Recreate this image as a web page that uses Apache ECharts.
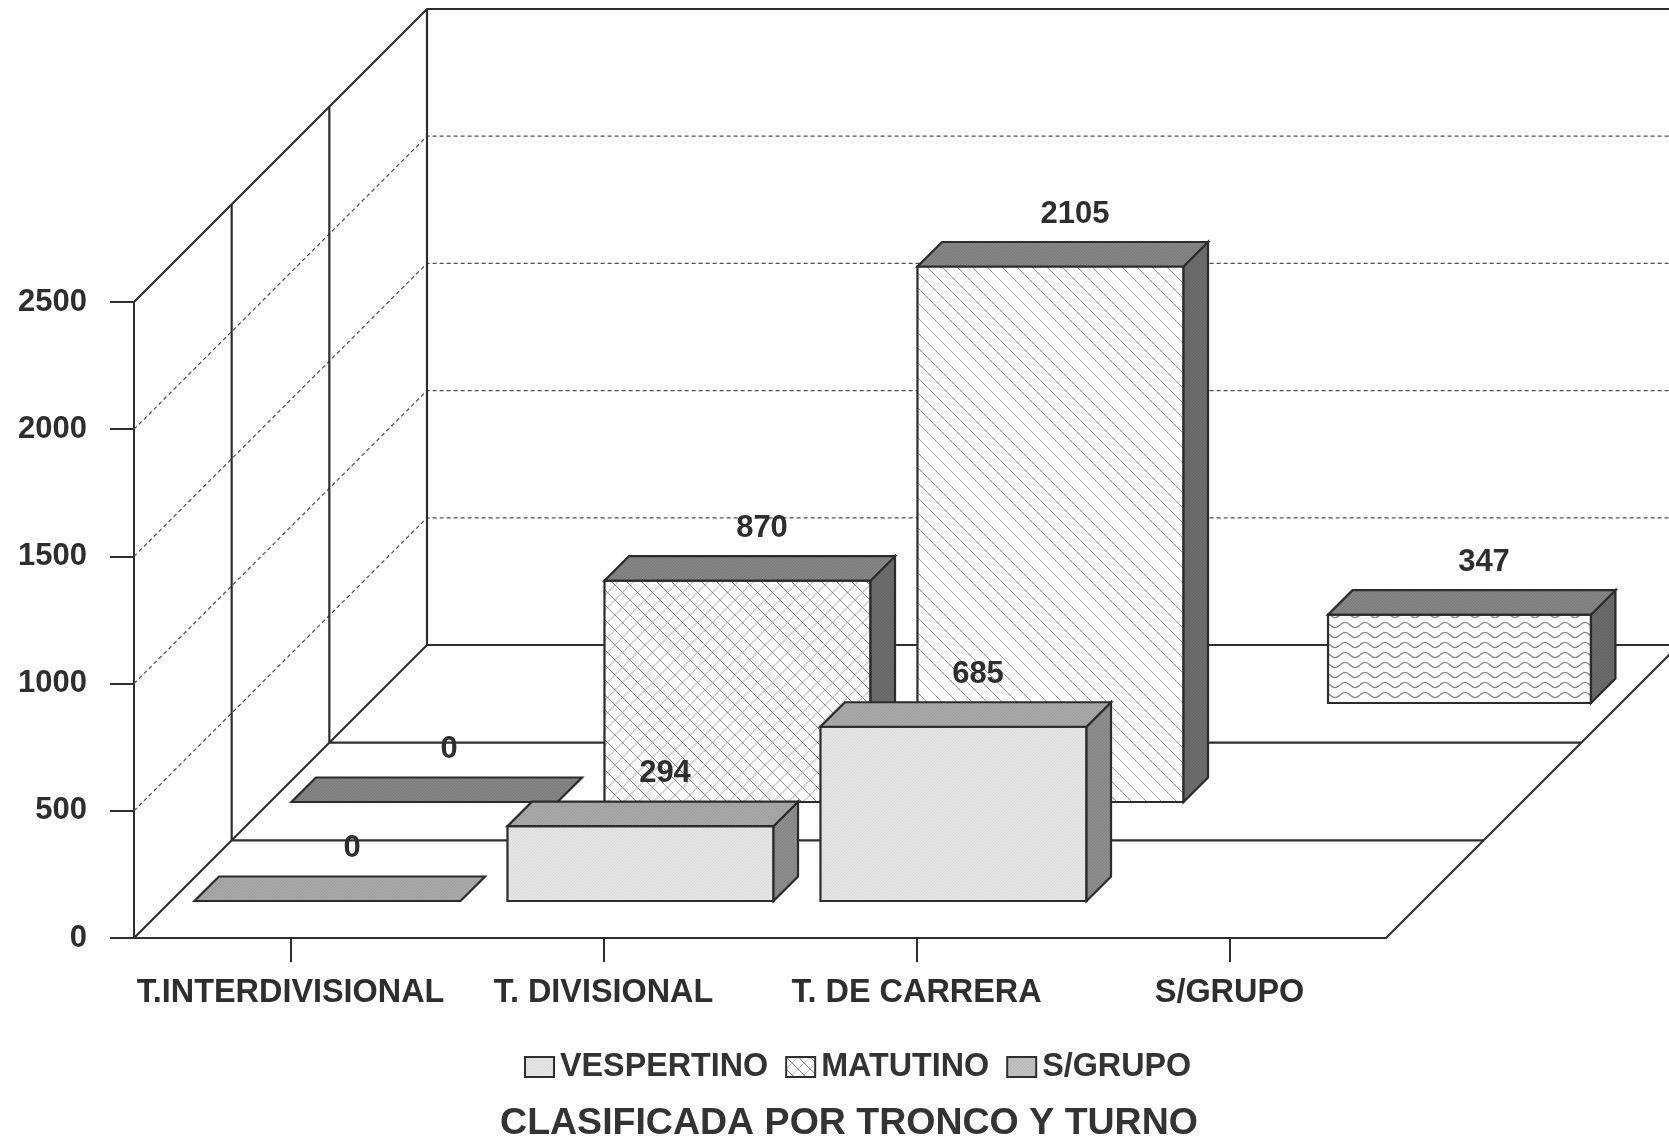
<!DOCTYPE html>
<html><head><meta charset="utf-8">
<style>html,body{margin:0;padding:0;background:#fff}#c{width:1669px;height:1139px}</style>
<script src="https://cdn.jsdelivr.net/npm/echarts@6/dist/echarts.min.js"></script>
</head><body><div id="c"></div>
<script>
// ---- data ----
const categories = ['T.INTERDIVISIONAL', 'T. DIVISIONAL', 'T. DE CARRERA', 'S/GRUPO'];
const vespertino = [0, 294, 685, null];
const matutino   = [0, 870, 2105, null];
const sinGrupo   = [null, null, null, 347];
const gridValues = [500, 1000, 1500, 2000];
const legendNames = ['VESPERTINO', 'MATUTINO', 'S/GRUPO'];
const titleText = 'CLASIFICADA POR TRONCO Y TURNO';

// ---- geometry of the fake 3-D box (screen pixels of offset) ----
const DEPTH = 293, ROWS = 3, FONT = 'Liberation Sans, Arial, sans-serif';
const INK = '#2e2e2e';
const BAR_DEPTH = 24.5;
const rowRatio = [0.85, 0.85, 0.84];
const rowOffsetX = [37, 134, 230];
const rowOffsetY = [37, 136, 235];

function tile(w, h, draw) {
  const c = document.createElement('canvas'); c.width = w; c.height = h;
  draw(c.getContext('2d'), w, h);
  return { image: c, repeat: 'repeat' };
}
function diagLines(ctx, w, h, dir, color, lw) {
  ctx.strokeStyle = color; ctx.lineWidth = lw;
  for (let k = -1; k <= 1; k++) {
    ctx.beginPath();
    if (dir > 0) { ctx.moveTo(k * w, 0); ctx.lineTo(k * w + w, h); }
    else { ctx.moveTo(k * w + w, 0); ctx.lineTo(k * w, h); }
    ctx.stroke();
  }
}
function dither(base, dot) {
  return tile(3, 3, (g, w, h) => {
    g.fillStyle = base; g.fillRect(0, 0, w, h);
    g.fillStyle = dot; g.fillRect(0, 0, 1, 1); g.fillRect(2, 1, 1, 1); g.fillRect(1, 2, 1, 1);
  });
}
const hatch = tile(15, 15, (g, w, h) => {
  g.fillStyle = '#fff'; g.fillRect(0, 0, w, h);
  diagLines(g, w, h, 1, '#9a9a9a', 1);
});
const cross = tile(15, 15, (g, w, h) => {
  g.fillStyle = '#fff'; g.fillRect(0, 0, w, h);
  diagLines(g, w, h, -1, '#cdcdcd', 1.4);
  diagLines(g, w, h, 1, '#858585', 1);
});
const wave = tile(20, 10, (g, w, h) => {
  g.fillStyle = '#fff'; g.fillRect(0, 0, w, h);
  g.strokeStyle = '#868686'; g.lineWidth = 1.4;
  g.beginPath(); g.moveTo(0, 5);
  g.bezierCurveTo(4, 1.5, 6, 1.5, 10, 5); g.bezierCurveTo(14, 8.5, 16, 8.5, 20, 5);
  g.stroke();
});
const legendHatch = tile(12, 12, (g, w, h) => {
  g.fillStyle = '#fff'; g.fillRect(0, 0, w, h);
  diagLines(g, w, h, 1, '#777', 1); diagLines(g, w, h, -1, '#bbb', 1);
});
const vespFace = dither('#e6e6e6', '#d9d9d9');
const speckle = dither('#c4c4c4', '#b0b0b0');

const looks = {
  vespertino: { face: () => vespFace, top: dither('#a9a9a9', '#9b9b9b'), side: dither('#8e8e8e', '#808080') },
  matutino:   { face: i => (i === 1 ? cross : hatch), top: dither('#868686', '#787878'), side: dither('#6e6e6e', '#626262') },
  sinGrupo:   { face: () => wave, top: dither('#868686', '#787878'), side: dither('#6c6c6c', '#5f5f5f') }
};

function barSeries(name, values, row, look) {
  return {
    name, type: 'custom', coordinateSystem: 'cartesian2d', encode: { x: 0, y: 1 },
    data: values.map((v, i) => [i, v]).filter(d => d[1] !== null),
    renderItem(params, api) {
      const i = api.value(0), v = api.value(1);
      const base = api.coord([i, 0]), head = api.coord([i, v]);
      const w = api.size([1, 0])[0] * rowRatio[row];
      const l = base[0] - w / 2 + rowOffsetX[row], r = l + w;
      const b = base[1] - rowOffsetY[row], t = head[1] - rowOffsetY[row], d = BAR_DEPTH;
      const edge = { stroke: '#2b2b2b', lineWidth: 2.2, lineJoin: 'miter' };
      const poly = (points, fill) => ({ type: 'polygon', shape: { points }, style: Object.assign({ fill }, edge) });
      const children = [];
      if (v > 0) {
        children.push(poly([[l, b], [r, b], [r, t], [l, t]], look.face(i)));
        children.push(poly([[r, b], [r + d, b - d], [r + d, t - d], [r, t]], look.side));
      }
      children.push(poly([[l, t], [r, t], [r + d, t - d], [l + d, t - d]], look.top));
      children.push({
        type: 'text', z2: 100,
        style: {
          x: (l + r) / 2 + d, y: t - d - 28, text: String(v), fill: INK,
          font: 'bold 31px ' + FONT, textAlign: 'center', textVerticalAlign: 'middle', textBaseline: 'middle'
        }
      });
      return { type: 'group', children };
    }
  };
}

const frameSeries = {
  type: 'custom', coordinateSystem: 'cartesian2d', encode: { x: 0, y: 1 }, silent: true,
  data: [[0, 0]],
  renderItem(params, api) {
    const bw = api.size([1, 0])[0];
    const o = api.coord([0, 0]); const x0 = o[0] - bw / 2, y0 = o[1];
    const top = api.coord([0, 2500])[1];
    const x1 = x0 + bw * categories.length;
    const st = { stroke: '#2e2e2e', lineWidth: 2.2, fill: null };
    const line = pts => ({ type: 'polyline', shape: { points: pts }, style: st });
    const kids = [];
    kids.push(line([[x0, top], [x0 + DEPTH, top - DEPTH], [x1 + DEPTH, top - DEPTH]]));
    kids.push(line([[x0, y0], [x0 + DEPTH, y0 - DEPTH], [x1 + DEPTH, y0 - DEPTH]]));
    kids.push(line([[x1, y0], [x1 + DEPTH, y0 - DEPTH]]));
    for (let k = 1; k <= ROWS; k++) {
      const dz = DEPTH * k / ROWS;
      kids.push(line([[x0 + dz, top - dz], [x0 + dz, y0 - dz]]));
      if (k < ROWS) kids.push(line([[x0 + dz, y0 - dz], [x1 + dz, y0 - dz]]));
    }
    return { type: 'group', children: kids };
  }
};

const gridSeries = {
  type: 'custom', coordinateSystem: 'cartesian2d', encode: { x: 0, y: 1 }, silent: true,
  data: gridValues.map(v => [0, v]),
  renderItem(params, api) {
    const bw = api.size([1, 0])[0];
    const p = api.coord([0, api.value(1)]); const x0 = p[0] - bw / 2;
    const x1 = x0 + bw * categories.length;
    return {
      type: 'polyline', z2: -1,
      shape: { points: [[x0, p[1]], [x0 + DEPTH, p[1] - DEPTH], [x1 + DEPTH, p[1] - DEPTH]] },
      style: { stroke: '#4d4d4d', lineWidth: 1.2, lineDash: [4, 3], fill: null }
    };
  }
};

const chart = echarts.init(document.getElementById('c'), null, { renderer: 'canvas', width: 1669, height: 1139 });
chart.setOption({
  animation: false, backgroundColor: '#fff',
  title: {
    text: titleText, left: 844, top: 1100, textAlign: 'center',
    textStyle: { fontFamily: FONT, fontWeight: 'bold', fontSize: 37.5, color: '#333' }
  },
  legend: {
    left: 519, top: 1046, itemWidth: 29, itemHeight: 20, itemGap: 17, selectedMode: false,
    textStyle: { fontFamily: FONT, fontWeight: 'bold', fontSize: 32.3, color: '#333', padding: [0, 0, 0, 1] },
    data: [
      { name: legendNames[0], icon: 'rect', itemStyle: { color: vespFace, borderColor: '#2e2e2e', borderWidth: 2 } },
      { name: legendNames[1], icon: 'rect', itemStyle: { color: legendHatch, borderColor: '#2e2e2e', borderWidth: 2 } },
      { name: legendNames[2], icon: 'rect', itemStyle: { color: speckle, borderColor: '#2e2e2e', borderWidth: 2 } }
    ]
  },
  grid: { left: 134, top: 302, width: 1252, height: 636 },
  xAxis: {
    type: 'category', data: categories, boundaryGap: true,
    axisLine: { show: true, lineStyle: { color: '#2e2e2e', width: 2 } },
    axisTick: { show: true, alignWithLabel: true, length: 24, lineStyle: { color: '#2e2e2e', width: 2 } },
    axisLabel: { margin: 39, interval: 0, fontFamily: FONT, fontWeight: 'bold', fontSize: 32.4, color: INK }
  },
  yAxis: {
    type: 'value', min: 0, max: 2500, interval: 500,
    axisLine: { show: true, lineStyle: { color: '#2e2e2e', width: 2 } },
    axisTick: { show: true, length: 24, lineStyle: { color: '#2e2e2e', width: 2 } },
    splitLine: { show: false },
    axisLabel: {
      margin: 47, fontFamily: FONT, fontWeight: 'bold', fontSize: 31, color: INK,
      formatter: v => String(v), padding: [5, 0, 0, 0],
      verticalAlignMinLabel: 'middle', verticalAlignMaxLabel: 'middle'
    }
  },
  series: [
    gridSeries, frameSeries,
    barSeries(legendNames[2], sinGrupo, 2, looks.sinGrupo),
    barSeries(legendNames[1], matutino, 1, looks.matutino),
    barSeries(legendNames[0], vespertino, 0, looks.vespertino)
  ]
});
</script></body></html>
